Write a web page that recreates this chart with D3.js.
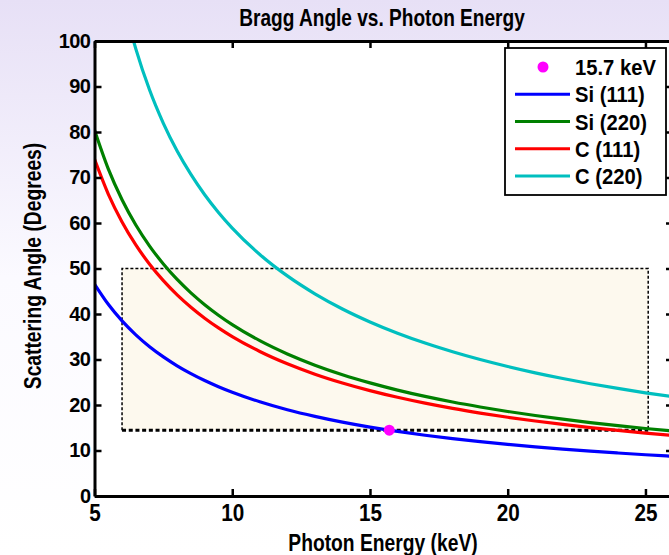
<!DOCTYPE html>
<html><head><meta charset="utf-8">
<script src="https://cdn.jsdelivr.net/npm/d3@7"></script>
<style>html,body{margin:0;padding:0;overflow:hidden;background:#fff}</style>
</head><body><svg id="chart" width="669" height="555"></svg>
<script>
// Scattering angle 2θ (degrees) against photon energy (keV)
const energy = [5,5.5,6,6.5,7,7.5,8,8.5,9,9.5,10,11,12,13,14,15,16,17,18,19,20,21,22,23,24,25,26];
const si111 = [46.58,42.13,38.48,35.42,32.81,30.57,28.62,26.90,25.38,24.02,22.80,20.71,18.96,17.50,16.24,15.15,14.20,13.36,12.61,11.95,11.35,10.80,10.31,9.86,9.45,9.07,8.72];
const si220 = [80.44,71.89,65.11,59.56,54.93,51.00,47.60,44.65,42.05,39.74,37.67,34.14,31.22,28.76,26.66,24.86,23.28,21.89,20.66,19.57,18.58,17.69,16.88,16.14,15.46,14.84,14.27];
const c111 = [74.04,66.36,60.23,55.18,50.94,47.33,44.21,41.49,39.08,36.95,35.04,31.77,29.06,26.78,24.84,23.16,21.69,20.40,19.25,18.23,17.31,16.48,15.73,15.04,14.41,13.83,13.30];
const energyC220 = [6.4,6.5,7,7.5,8,8.5,9,9.5,10,11,12,13,14,15,16,17,18,19,20,21,22,23,24,25,26];
const c220 = [100.36,98.27,89.22,81.91,75.82,70.67,66.21,62.32,58.89,53.09,48.37,44.44,41.11,38.26,35.78,33.61,31.70,29.99,28.46,27.07,25.82,24.68,23.64,22.68,21.80];

// operating point
const markerEnergy = [15.7];
const markerAngle = [14.47];

// shaded working window
const windowEnergy = [6, 25.1];
const windowAngle = [14.47, 50];

const xTicks = [5,10,15,20,25];
const yTicks = [0,10,20,30,40,50,60,70,80,90,100];
const legendLabels = ["15.7 keV","Si (111)","Si (220)","C (111)","C (220)"];
const seriesColors = ["#0000ff","#008000","#ff0000","#00bfbf"];

const FONT = "'Liberation Sans', Arial, Helvetica, sans-serif";
const svg = d3.select("#chart");

// page background
const defs = svg.append("defs");
const grad = defs.append("linearGradient").attr("id","bg").attr("x1",0).attr("y1",0).attr("x2",0).attr("y2",1);
grad.append("stop").attr("offset","0%").attr("stop-color","#e7e0f6");
grad.append("stop").attr("offset","50%").attr("stop-color","#fbfaff");
grad.append("stop").attr("offset","100%").attr("stop-color","#ffffff");
svg.append("rect").attr("width",669).attr("height",555).attr("fill","url(#bg)");

const x = d3.scaleLinear().domain([5, 26]).range([94.5, 673]);
const y = d3.scaleLinear().domain([0, 100]).range([496, 41]);

const [x0, x1] = x.range();
const [yb, yt] = y.range();

defs.append("clipPath").attr("id","plotClip").append("rect")
  .attr("x", x0).attr("y", yt).attr("width", x1 - x0).attr("height", yb - yt);

svg.append("rect").attr("x", x0).attr("y", yt).attr("width", x1 - x0).attr("height", yb - yt).attr("fill", "#fff");

const plot = svg.append("g").attr("clip-path","url(#plotClip)");

// working window
plot.append("rect")
  .attr("x", x(windowEnergy[0])).attr("y", y(windowAngle[1]))
  .attr("width", x(windowEnergy[1]) - x(windowEnergy[0]))
  .attr("height", y(windowAngle[0]) - y(windowAngle[1]))
  .attr("fill", "#fdf9ee");
plot.append("path")
  .attr("d", d3.line()([[x(windowEnergy[0]), y(windowAngle[0])],[x(windowEnergy[0]), y(windowAngle[1])],[x(windowEnergy[1]), y(windowAngle[1])],[x(windowEnergy[1]), y(windowAngle[0])]]))
  .attr("fill","none").attr("stroke","#000").attr("stroke-width",1.5).attr("stroke-dasharray","3,2");
plot.append("line")
  .attr("x1", x(windowEnergy[0])).attr("x2", x(windowEnergy[1]))
  .attr("y1", y(windowAngle[0])).attr("y2", y(windowAngle[0]))
  .attr("stroke","#000").attr("stroke-width",3).attr("stroke-dasharray","4,2.7");

// curves
const line = d3.line().x(d => x(d[0])).y(d => y(d[1])).curve(d3.curveMonotoneX);
const series = [
  energy.map((e,i) => [e, si111[i]]),
  energy.map((e,i) => [e, si220[i]]),
  energy.map((e,i) => [e, c111[i]]),
  energyC220.map((e,i) => [e, c220[i]])
];
series.forEach((s, i) => {
  plot.append("path").attr("d", line(s)).attr("fill","none")
    .attr("stroke", seriesColors[i]).attr("stroke-width", 3.2).attr("stroke-linejoin","round");
});

// marker
plot.selectAll("circle.mk").data(markerEnergy).join("circle").attr("class","mk")
  .attr("cx", d => x(d)).attr("cy", (d,i) => y(markerAngle[i])).attr("r", 5.5).attr("fill","#ff00ff");

// axes (ticks on all four sides, pointing inward)
function styleAxis(g) {
  g.select(".domain").attr("stroke","#000").attr("stroke-width",3);
  g.selectAll(".tick line").attr("stroke","#000").attr("stroke-width",2.5);
}
svg.append("g").attr("transform",`translate(0,${yb})`)
  .call(d3.axisBottom(x).tickValues(xTicks).tickSizeInner(-7).tickSizeOuter(0).tickPadding(10))
  .call(styleAxis)
  .call(g => g.selectAll(".tick text").attr("font-family",FONT).attr("font-weight","bold").attr("font-size",23)
    .attr("fill","#000").attr("dy","0.71em").attr("y",9).attr("transform","scale(0.9,1)"));
svg.append("g").attr("transform",`translate(0,${yt})`)
  .call(d3.axisTop(x).tickValues(xTicks).tickSizeInner(-7).tickSizeOuter(0).tickFormat(""))
  .call(styleAxis);
svg.append("g").attr("transform",`translate(${x0},0)`)
  .call(d3.axisLeft(y).tickValues(yTicks).tickSizeInner(-7).tickSizeOuter(0).tickPadding(5))
  .call(styleAxis)
  .call(g => g.selectAll(".tick text").attr("font-family",FONT).attr("font-weight","bold").attr("font-size",20)
    .attr("fill","#000").attr("x",-4).attr("letter-spacing","-0.5"));
svg.append("g").attr("transform",`translate(${x1},0)`)
  .call(d3.axisRight(y).tickValues(yTicks).tickSizeInner(-7).tickSizeOuter(0).tickFormat(""))
  .call(styleAxis);

// text helper with horizontal condensing
function txt(s, px, py, size, sx, rot, anchor) {
  svg.append("text")
    .attr("transform", `translate(${px},${py}) rotate(${rot||0}) scale(${sx},1)`)
    .attr("text-anchor", anchor || "middle")
    .attr("font-family", FONT).attr("font-weight","bold").attr("font-size", size)
    .attr("fill","#000").text(s);
}
txt("Bragg Angle vs. Photon Energy", 382, 26, 23, 0.83);
txt("Photon Energy (keV)", 383, 551, 23.5, 0.82);
txt("Scattering Angle (Degrees)", 41, 266, 23.5, 0.82, -90);

// legend
const lg = svg.append("g");
lg.append("rect").attr("x",505).attr("y",48).attr("width",161).attr("height",147)
  .attr("fill","#fff").attr("stroke","#000").attr("stroke-width",1.8);
const rowY = d3.scalePoint().domain(d3.range(legendLabels.length)).range([67, 176]);
lg.append("circle").attr("cx",543).attr("cy",rowY(0)).attr("r",5.5).attr("fill","#ff00ff");
seriesColors.forEach((c,i) => {
  lg.append("line").attr("x1",515).attr("x2",570).attr("y1",rowY(i+1)).attr("y2",rowY(i+1))
    .attr("stroke",c).attr("stroke-width",3);
});
legendLabels.forEach((t,i) => {
  lg.append("text").attr("transform",`translate(575,${rowY(i)+8}) scale(0.92,1)`)
    .attr("font-family",FONT).attr("font-weight","bold").attr("font-size",22).attr("fill","#000").text(t);
});
</script></body></html>
